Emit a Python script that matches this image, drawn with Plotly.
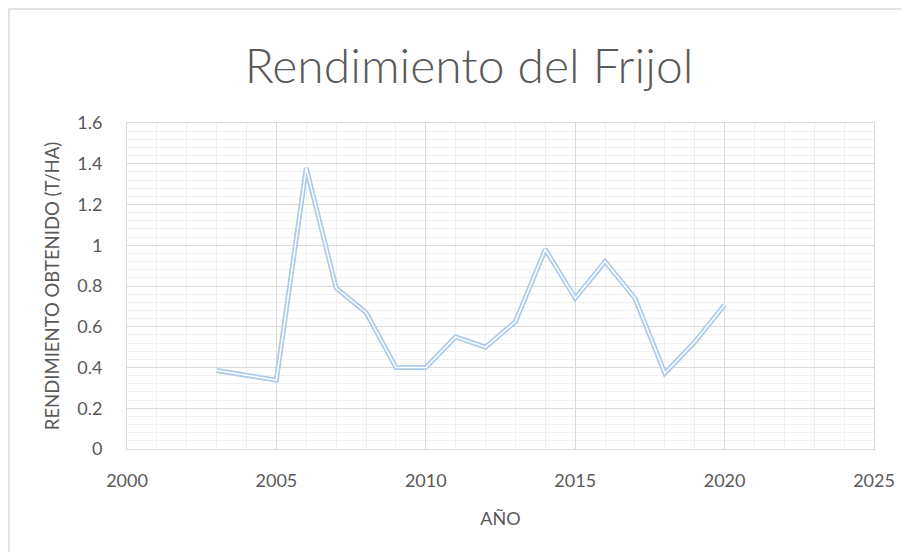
import plotly.graph_objects as go

years = [2003, 2004, 2005, 2006, 2007, 2008, 2009, 2010, 2011, 2012,
         2013, 2014, 2015, 2016, 2017, 2018, 2019, 2020]
rendimiento = [0.385, 0.36, 0.338, 1.38, 0.79, 0.67, 0.40, 0.40, 0.55, 0.50,
               0.625, 0.98, 0.74, 0.92, 0.74, 0.372, 0.525, 0.708]

title_text = "Rendimiento del Frijol"
x_title = "AÑO"
y_title = "RENDIMIENTO OBTENIDO (T/HA)"

OFF = 8  # page body margin
W, H = 910 - OFF, 552 - OFF
L, R, T, B = 127 - OFF, 36, 123 - OFF, 103

fig = go.Figure()
# Double-line effect: blue outer stroke with a white core
fig.add_trace(go.Scatter(x=years, y=rendimiento, mode="lines",
                         line=dict(color="#aecbea", width=5), hoverinfo="skip",
                         showlegend=False))
fig.add_trace(go.Scatter(x=years, y=rendimiento, mode="lines",
                         line=dict(color="#ffffff", width=1.5),
                         showlegend=False))

font_family = "Lato, 'Open Sans', sans-serif"
grey_text = "#595959"

fig.update_layout(
    width=W, height=H,
    margin=dict(l=L, r=R, t=T, b=B),
    paper_bgcolor="white", plot_bgcolor="white",
    font=dict(family=font_family, color=grey_text),
    title=dict(text=title_text, x=(469 - OFF) / W, xanchor="center",
               y=1 - (66 - OFF) / H, yanchor="middle",
               font=dict(size=48, color=grey_text, family="Lato, sans-serif", weight=300)),
    showlegend=False,
)

fig.update_xaxes(
    range=[2000, 2025], dtick=5, tick0=2000,
    showgrid=True, gridcolor="#d9d9d9", gridwidth=1,
    minor=dict(dtick=1, showgrid=True, gridcolor="#f0f0f0", gridwidth=1),
    zeroline=False, showline=True, linecolor="#d9d9d9", linewidth=1, mirror=True,
    ticks="", tickfont=dict(size=18, color=grey_text), ticklabelstandoff=15,
    title=dict(text=x_title, font=dict(size=18, color=grey_text), standoff=22),
)
fig.update_yaxes(
    range=[0, 1.6], dtick=0.2, tick0=0,
    showgrid=True, gridcolor="#d9d9d9", gridwidth=1,
    minor=dict(dtick=0.04, showgrid=True, gridcolor="#f0f0f0", gridwidth=1),
    zeroline=False, showline=True, linecolor="#d9d9d9", linewidth=1, mirror=True,
    ticks="", tickfont=dict(size=18, color=grey_text), ticklabelstandoff=20,
    title=dict(text=y_title, font=dict(size=18.5, color=grey_text), standoff=12),
)

# Outer chart border (Excel chart area), extends beyond right/bottom edges
pw = W - L - R
ph = H - T - B
fig.add_shape(type="rect", xref="paper", yref="paper",
              x0=(9 - OFF - L) / pw, x1=(W + 20 - L) / pw,
              y0=-(B + 20) / ph, y1=1 + (T - (9 - OFF)) / ph,
              line=dict(color="#d9d9d9", width=1.5), fillcolor="rgba(0,0,0,0)",
              layer="below")

fig.write_html("out.html")
